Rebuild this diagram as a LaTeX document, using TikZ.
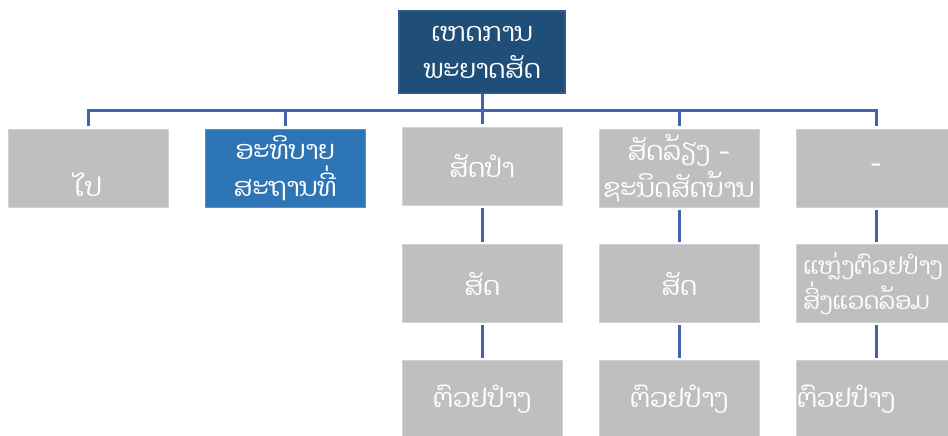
\documentclass[tikz,border=0pt]{standalone}
\usepackage{fontspec}
\newfontfamily\laofont[Script=Lao]{Dhyana}
\definecolor{navy}{HTML}{1F4E79}
\definecolor{navyedge}{HTML}{2F5C8C}
\definecolor{midblue}{HTML}{2E75B6}
\definecolor{boxgray}{HTML}{BFBFBF}
\definecolor{linkblue}{HTML}{3F65AE}
\begin{document}
\begin{tikzpicture}[x=1pt,y=-1pt,
  box/.style={rectangle, minimum width=160pt, minimum height=78pt,
    inner xsep=10pt, inner ysep=0pt, text width=140pt, align=center, text=white,
    font={\laofont\fontsize{26pt}{37pt}\selectfont}},
  graybox/.style={box, fill=boxgray, draw=boxgray!70!white, line width=0.6pt},
  bluebox/.style={box, fill=midblue, draw=midblue!80!white, line width=0.6pt},
  rootbox/.style={box, fill=navy, draw=navyedge, line width=1.5pt,
    minimum width=166pt, minimum height=82pt, text width=146pt},
  conn/.style={draw=linkblue, line width=3pt}]
\useasboundingbox (0,0) rectangle (948,436);
\node[rootbox] (root) at (482,52) {ເຫດການ\\ພະຍາດສັດ};
\node[graybox] (a1) at (88,168) {\mbox{}\\[20pt]ໄປ};
\node[bluebox] (a2) at (285,168) {ອະທິບາຍ\\ສະຖານທີ່};
\node[graybox] (a3) at (482,166) {\makebox[0pt]{ສັດປຳ}};
\node[graybox] (a4) at (679,168) {\makebox[0pt]{ສັດລ້ຽງ -}\\\makebox[0pt]{ຊະນິດສັດບ້ານ}};
\node[graybox] (a5) at (876,168) {-};
\node[graybox] (b3) at (482,283.5) {ສັດ};
\node[graybox] (b4) at (679,283.5) {ສັດ};
\node[graybox, align=left, inner xsep=7pt, text width=146pt,
  font={\laofont\fontsize{23.5pt}{35pt}\selectfont}] (b5) at (876,283.5)
  {\rlap{ແຫຼ່ງຕົວຢປຳງ}\\\rlap{ສິ່ງແວດລ້ອມ}};
\node[graybox] (c3) at (482,399.5) {ຕົວຢປຳງ};
\node[graybox] (c4) at (679,399.5) {ຕົວຢປຳງ};
\node[graybox, align=left, inner xsep=1pt, text width=158pt] (c5) at (876,399.5) {\rlap{ຕົວຢປຳງ}};
\coordinate (bar) at (482,110);
\draw[conn] (root.south) -- (bar);
\draw[conn, shorten <=3pt, shorten >=3pt] (a1.north) |- (a5.north |- bar) -- (a5.north);
\foreach \n in {a2,a3,a4} \draw[conn, shorten >=3pt] (\n.north |- bar) -- (\n.north);
\foreach \u/\v in {a3/b3,a4/b4,a5/b5,b3/c3,b4/c4,b5/c5}
  \draw[conn, shorten <=2.5pt, shorten >=2.5pt] (\u.south) -- (\v.north);
\end{tikzpicture}
\end{document}
